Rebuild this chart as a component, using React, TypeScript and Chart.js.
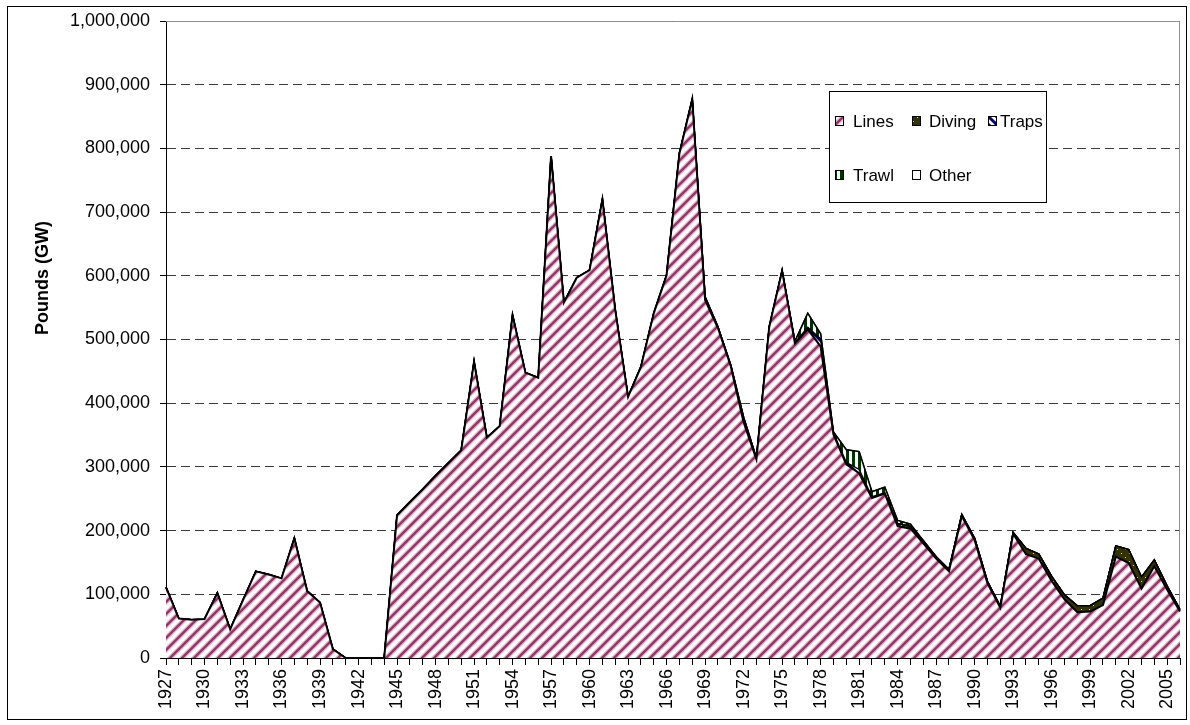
import React, { useEffect, useRef } from 'react';
import { Chart, registerables } from 'chart.js';

Chart.register(...registerables);

const years = [
  '1927','1928','1929','1930','1931','1932','1933','1934','1935','1936',
  '1937','1938','1939','1940','1941','1942','1943','1944','1945','1946',
  '1947','1948','1949','1950','1951','1952','1953','1954','1955','1956',
  '1957','1958','1959','1960','1961','1962','1963','1964','1965','1966',
  '1967','1968','1969','1970','1971','1972','1973','1974','1975','1976',
  '1977','1978','1979','1980','1981','1982','1983','1984','1985','1986',
  '1987','1988','1989','1990','1991','1992','1993','1994','1995','1996',
  '1997','1998','1999','2000','2001','2002','2003','2004','2005','2006',
];

const linesValues = [
  111000, 62000, 60000, 61000, 102000, 45000, 91000, 136000, 131000, 125000,
  188000, 105000, 87000, 14000, 0, 0, 0, 0, 224000, 245000,
  265000, 286000, 306000, 326000, 465000, 346000, 364000, 538000, 448000, 440000,
  788000, 558000, 597000, 609000, 720000, 546000, 410000, 457000, 541000, 601000,
  792000, 877000, 562000, 518000, 458000, 370000, 312000, 520000, 608000, 494000,
  516000, 489000, 351000, 304000, 290000, 251000, 258000, 207000, 203000, 180000,
  156000, 136000, 223000, 185000, 117000, 79000, 195000, 163000, 156000, 121000,
  92000, 72000, 73000, 83000, 159000, 149000, 109000, 144000, 107000, 73000,
];

const divingValues = [
  0, 0, 0, 0, 0, 0, 0, 0, 0, 0,
  0, 0, 0, 0, 0, 0, 0, 0, 0, 0,
  0, 0, 0, 0, 0, 0, 0, 0, 0, 0,
  0, 0, 0, 0, 0, 0, 0, 0, 0, 0,
  0, 0, 0, 0, 0, 0, 0, 0, 0, 0,
  0, 0, 0, 0, 0, 0, 0, 4000, 4000, 4000,
  3000, 3000, 2000, 3000, 3000, 2000, 2000, 9000, 7000, 7000,
  7000, 10000, 9000, 11000, 17000, 21000, 18000, 10000, 6000, 3000,
];

const trapsValues = [
  0, 0, 0, 0, 0, 0, 0, 0, 0, 0,
  0, 0, 0, 0, 0, 0, 0, 0, 0, 0,
  0, 0, 0, 0, 0, 0, 0, 0, 0, 0,
  0, 0, 0, 0, 0, 0, 0, 0, 0, 0,
  0, 0, 5000, 2000, 2000, 8000, 1500, 0, 0, 1000,
  3000, 12000, 2000, 3000, 6000, 2000, 1000, 0, 0, 0,
  0, 0, 0, 0, 0, 0, 0, 0, 0, 0,
  0, 0, 0, 0, 0, 0, 0, 0, 0, 0,
];

const trawlValues = [
  0, 0, 0, 0, 0, 0, 0, 0, 0, 0,
  0, 0, 0, 0, 0, 0, 0, 0, 0, 0,
  0, 0, 0, 0, 0, 0, 0, 0, 0, 0,
  0, 0, 0, 0, 0, 0, 0, 0, 0, 0,
  0, 0, 0, 0, 0, 0, 0, 0, 0, 2000,
  22000, 8000, 2000, 20000, 28000, 8000, 9000, 5000, 3000, 0,
  0, 0, 0, 0, 0, 0, 0, 0, 0, 0,
  0, 0, 0, 0, 0, 0, 0, 0, 0, 0,
];

const otherValues = [
  0, 0, 0, 0, 0, 0, 0, 0, 0, 0,
  0, 0, 0, 0, 0, 0, 0, 0, 0, 0,
  0, 0, 0, 0, 0, 0, 0, 0, 0, 0,
  0, 0, 0, 0, 0, 0, 0, 0, 0, 0,
  0, 0, 0, 0, 0, 0, 0, 0, 0, 0,
  0, 0, 0, 0, 0, 0, 0, 0, 0, 0,
  0, 0, 0, 0, 0, 0, 0, 0, 0, 0,
  0, 0, 0, 0, 0, 0, 0, 0, 0, 0,
];

const seriesNames = ['Lines', 'Diving', 'Traps', 'Trawl', 'Other'];
const yTitle = 'Pounds (GW)';
const yMax = 1000000;
const yStep = 100000;
const FONT = "'Liberation Sans', Arial, sans-serif";

function makeTile(w: number, h: number, draw: (g: CanvasRenderingContext2D) => void) {
  const c = document.createElement('canvas');
  c.width = w;
  c.height = h;
  const g = c.getContext('2d')!;
  draw(g);
  return c;
}

function makePatterns(ctx: CanvasRenderingContext2D) {
  const linesTile = makeTile(12, 12, (g) => {
    g.fillStyle = '#ffffff';
    g.fillRect(0, 0, 12, 12);
    const stroke = (w: number, color: string) => {
      g.strokeStyle = color;
      g.lineWidth = w;
      for (const o of [-12, 0, 12]) {
        g.beginPath();
        g.moveTo(o - 3, 15);
        g.lineTo(o + 15, -3);
        g.stroke();
      }
    };
    stroke(5, 'rgba(153,51,102,0.3)');
    stroke(2.5, '#993366');
  });
  const divingTile = makeTile(8, 8, (g) => {
    g.fillStyle = '#333300';
    g.fillRect(0, 0, 8, 8);
    g.fillStyle = '#d8d8b8';
    g.fillRect(1, 1, 1, 1);
    g.fillRect(5, 5, 1, 1);
  });
  const trapsTile = makeTile(8, 8, (g) => {
    g.fillStyle = '#ffffff';
    g.fillRect(0, 0, 8, 8);
    g.strokeStyle = '#000080';
    g.lineWidth = 3;
    for (const o of [-8, 0, 8]) {
      g.beginPath();
      g.moveTo(o - 2, -2);
      g.lineTo(o + 10, 10);
      g.stroke();
    }
  });
  const trawlTile = makeTile(6, 6, (g) => {
    g.fillStyle = '#ffffff';
    g.fillRect(0, 0, 6, 6);
    g.fillStyle = '#003300';
    g.fillRect(0, 0, 3, 6);
  });
  return {
    lines: ctx.createPattern(linesTile, 'repeat')!,
    diving: ctx.createPattern(divingTile, 'repeat')!,
    traps: ctx.createPattern(trapsTile, 'repeat')!,
    trawl: ctx.createPattern(trawlTile, 'repeat')!,
    other: '#ffffff',
  };
}

export default function App() {
  const ref = useRef<HTMLCanvasElement>(null);

  useEffect(() => {
    document.body.style.margin = '0';
    const canvas = ref.current!;
    const ctx = canvas.getContext('2d')!;
    const pat = makePatterns(ctx);
    const fills = [pat.lines, pat.diving, pat.traps, pat.trawl, pat.other];
    const values = [linesValues, divingValues, trapsValues, trawlValues, otherValues];

    const framePlugin = {
      id: 'frame',
      beforeDraw(chart: any) {
        const c = chart.ctx;
        c.save();
        c.fillStyle = '#ffffff';
        c.fillRect(0, 0, chart.width, chart.height);
        c.restore();
      },
      beforeDatasetsDraw(chart: any) {
        const c = chart.ctx;
        const a = chart.chartArea;
        c.save();
        c.strokeStyle = '#909090';
        c.lineWidth = 1;
        c.beginPath();
        c.moveTo(a.left, a.top + 0.5);
        c.lineTo(a.right - 0.5, a.top + 0.5);
        c.lineTo(a.right - 0.5, a.bottom);
        c.stroke();
        c.restore();
      },
      afterDraw(chart: any) {
        const c = chart.ctx;
        c.save();
        // outer border
        c.strokeStyle = '#000000';
        c.lineWidth = 1;
        c.strokeRect(7.5, 6.5, 1179, 713);
        // y title
        c.save();
        c.translate(43, 278);
        c.rotate(-Math.PI / 2);
        c.font = `bold 18px ${FONT}`;
        c.fillStyle = '#000';
        c.textAlign = 'center';
        c.textBaseline = 'middle';
        c.fillText(yTitle, 0, 0);
        c.restore();
        // legend
        c.fillStyle = '#ffffff';
        c.fillRect(829.5, 91.5, 217, 111);
        c.strokeStyle = '#000000';
        c.strokeRect(829.5, 91.5, 217, 111);
        const items = [
          { i: 0, sx: 835, tx: 853, y: 121 },
          { i: 1, sx: 912, tx: 929, y: 121 },
          { i: 2, sx: 988, tx: 1000, y: 121 },
          { i: 3, sx: 835, tx: 853, y: 175 },
          { i: 4, sx: 912, tx: 929, y: 175 },
        ];
        c.font = `17px ${FONT}`;
        c.textBaseline = 'middle';
        c.textAlign = 'left';
        for (const it of items) {
          c.fillStyle = fills[it.i] as any;
          c.fillRect(it.sx + 0.5, it.y - 4.5, 8, 9);
          c.strokeStyle = '#000';
          c.strokeRect(it.sx + 0.5, it.y - 4.5, 8, 9);
          c.fillStyle = '#000';
          c.fillText(seriesNames[it.i], it.tx, it.y + 1);
        }
        c.restore();
      },
    };

    const chart = new Chart(canvas, {
      type: 'line',
      data: {
        labels: years,
        datasets: values.map((v, i) => ({
          label: seriesNames[i],
          data: v,
          backgroundColor: fills[i] as any,
          borderColor: '#000000',
          borderWidth: i === 0 ? 2 : 1.5,
          pointRadius: 0,
          tension: 0,
          fill: i === 0 ? 'origin' : '-1',
        })),
      },
      options: {
        responsive: false,
        animation: false,
        layout: { padding: { left: 0, right: 10, top: 21, bottom: 0 } },
        plugins: {
          legend: { display: false },
          tooltip: { enabled: false },
        },
        scales: {
          x: {
            afterFit: (s: any) => {
              s.height = 67;
              s.paddingLeft = 0;
              s.paddingRight = 0;
            },
            grid: {
              display: true,
              drawOnChartArea: false,
              drawTicks: true,
              tickLength: 7,
              tickColor: '#000',
              color: '#000',
            },
            border: { display: true, color: '#000', width: 1 },
            ticks: {
              autoSkip: false,
              maxRotation: 90,
              minRotation: 90,
              padding: 4,
              color: '#000',
              font: { family: FONT, size: 18 },
              callback: (_v: any, idx: number) => (idx % 3 === 0 ? years[idx] : ''),
            },
          },
          y: {
            stacked: true,
            min: 0,
            max: yMax,
            afterFit: (s: any) => {
              s.width = 166;
              s.paddingTop = 0;
              s.paddingBottom = 0;
            },
            grid: {
              color: '#3a3a3a',
              lineWidth: 1,
              drawTicks: true,
              tickLength: 6,
              tickColor: '#000',
            },
            border: { display: true, color: '#000', width: 1, dash: [9, 5] },
            ticks: {
              stepSize: yStep,
              padding: 10,
              color: '#000',
              font: { family: FONT, size: 18 },
              callback: (v: any) => Number(v).toLocaleString('en-US'),
            },
          },
        },
      },
      plugins: [framePlugin],
    });

    return () => chart.destroy();
  }, []);

  return <canvas ref={ref} width={1190} height={725} style={{ display: 'block' }} />;
}
